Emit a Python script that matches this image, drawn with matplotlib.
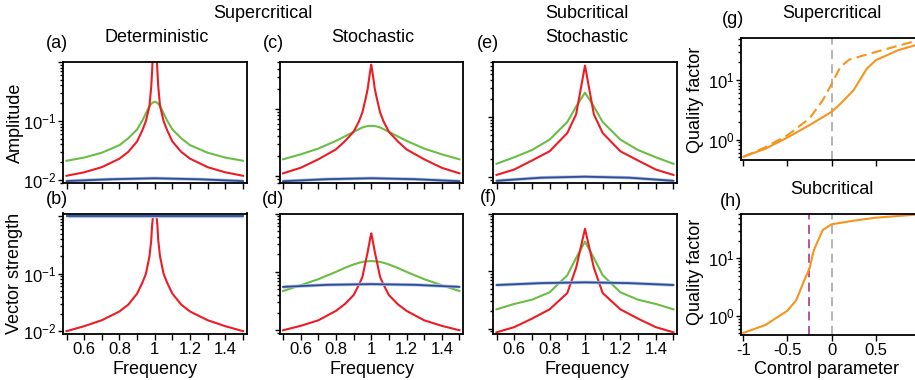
import matplotlib
matplotlib.use("Agg")
import matplotlib.pyplot as plt
from matplotlib.ticker import LogLocator, NullFormatter, FixedLocator, FixedFormatter

plt.rcParams['font.family'] = ['Liberation Sans', 'DejaVu Sans']
plt.rcParams['axes.unicode_minus'] = False
plt.rcParams['mathtext.fontset'] = 'custom'
plt.rcParams['mathtext.rm'] = 'Liberation Sans'

FS = 13
TFS = 12

# ---------------- data ----------------
freq_s = [0.5, 0.6, 0.7, 0.8, 0.85, 0.9, 0.93, 0.95, 0.97, 0.98, 0.985, 0.99, 0.995, 1.0,
          1.005, 1.01, 1.015, 1.02, 1.03, 1.05, 1.07, 1.1, 1.15, 1.2, 1.3, 1.4, 1.5]

# (a) deterministic amplitude
a_red = [0.0118, 0.0135, 0.0165, 0.023, 0.030, 0.045, 0.070, 0.10, 0.18, 0.38, 0.7, 1.5, 3.0, 5.0,
         3.0, 1.5, 0.7, 0.38, 0.18, 0.10, 0.070, 0.045, 0.030, 0.023, 0.0165, 0.0135, 0.0118]
a_green = [0.0212, 0.024, 0.029, 0.039, 0.051, 0.072, 0.102, 0.135, 0.178, 0.196, 0.202, 0.206, 0.209, 0.21,
           0.209, 0.206, 0.202, 0.196, 0.178, 0.135, 0.102, 0.072, 0.051, 0.039, 0.029, 0.024, 0.0212]
freq_b = [0.5, 0.75, 1.0, 1.25, 1.5]
a_blue = [0.0096, 0.0103, 0.0107, 0.0103, 0.0096]

# (b) deterministic vector strength
b_red = [0.010, 0.0122, 0.0155, 0.022, 0.029, 0.045, 0.070, 0.10, 0.20, 0.38, 0.7, 1.0, 1.0, 1.0,
         1.0, 1.0, 0.7, 0.38, 0.20, 0.10, 0.070, 0.045, 0.029, 0.022, 0.0155, 0.0122, 0.010]
b_blue = [1.0, 1.0, 1.0, 1.0, 1.0]

# (c) stochastic amplitude (supercritical)
c_red = [0.011, 0.0133, 0.0178, 0.025, 0.033, 0.0457, 0.065, 0.089, 0.15, 0.20, 0.25, 0.31, 0.38, 0.457,
         0.38, 0.31, 0.25, 0.20, 0.15, 0.089, 0.065, 0.0457, 0.033, 0.025, 0.0178, 0.0133, 0.011]
c_green = [0.0178, 0.0211, 0.0257, 0.0335, 0.039, 0.0457, 0.050, 0.053, 0.055, 0.0555, 0.0558, 0.056, 0.056, 0.056,
           0.056, 0.056, 0.0558, 0.0555, 0.055, 0.053, 0.050, 0.0457, 0.039, 0.0335, 0.0257, 0.0211, 0.0178]
c_blue = [0.0084, 0.0090, 0.0093, 0.0090, 0.0084]

# (d) stochastic vector strength (supercritical)
d_red = [0.010, 0.0119, 0.0148, 0.0215, 0.028, 0.040, 0.060, 0.082, 0.16, 0.22, 0.27, 0.32, 0.39, 0.457,
         0.39, 0.32, 0.27, 0.22, 0.16, 0.082, 0.060, 0.040, 0.028, 0.0215, 0.0148, 0.0119, 0.010]
d_green = [0.047, 0.059, 0.075, 0.100, 0.117, 0.134, 0.143, 0.148, 0.151, 0.152, 0.152, 0.153, 0.153, 0.153,
           0.153, 0.153, 0.152, 0.152, 0.151, 0.148, 0.143, 0.134, 0.117, 0.100, 0.075, 0.059, 0.047]
d_blue = [0.0553, 0.060, 0.0617, 0.060, 0.0553]

# subcritical stochastic (coarse sampling)
freq_p = [0.5, 0.6, 0.7, 0.8, 0.9, 0.95, 1.0, 1.05, 1.1, 1.2, 1.3, 1.4, 1.5]
e_red = [0.011, 0.0135, 0.019, 0.027, 0.054, 0.11, 0.70, 0.11, 0.054, 0.027, 0.019, 0.0135, 0.011]
e_green = [0.0168, 0.0215, 0.0283, 0.042, 0.082, 0.148, 0.25, 0.148, 0.082, 0.042, 0.0283, 0.0215, 0.0168]
e_blue = [0.0088, 0.0099, 0.0103, 0.0099, 0.0088]

f_red = [0.0087, 0.0107, 0.015, 0.0218, 0.0417, 0.115, 0.545, 0.115, 0.0417, 0.0218, 0.015, 0.0107, 0.0087]
f_green = [0.0218, 0.027, 0.032, 0.043, 0.085, 0.17, 0.326, 0.17, 0.085, 0.043, 0.032, 0.027, 0.0218]
f_blue = [0.0575, 0.062, 0.064, 0.062, 0.0575]

# (g) quality factor, supercritical
ctrl_g = [-1.0, -0.75, -0.5, -0.25, 0.0, 0.1, 0.25, 0.4, 0.5, 0.75, 1.0]
g_solid = [0.51, 0.70, 1.08, 1.75, 2.93, 4.0, 6.8, 15.7, 21.7, 32.0, 41.0]
ctrl_gd = [-1.0, -0.75, -0.5, -0.25, -0.1, 0.0, 0.1, 0.2, 0.5, 0.75, 1.0]
g_dashed = [0.51, 0.74, 1.18, 2.26, 4.6, 8.6, 16.8, 22.3, 30.0, 38.0, 48.0]

# (h) quality factor, subcritical
ctrl_h = [-1.0, -0.75, -0.5, -0.4, -0.3, -0.25, -0.2, -0.1, 0.0, 0.25, 0.5, 1.0]
h_q = [0.51, 0.70, 1.24, 1.89, 4.5, 6.7, 14.0, 31.0, 39.0, 45.0, 50.7, 58.0]
h_mark = -0.25

freq_ticks = [0.5, 0.6, 0.7, 0.8, 0.9, 1.0, 1.1, 1.2, 1.3, 1.4, 1.5]
freq_labels = ['', '0.6', '', '0.8', '', '1', '', '1.2', '', '1.4', '']
ctrl_ticks = [-1, -0.5, 0, 0.5, 1]
ctrl_labels = ['-1', '-0.5', '0', '0.5', '']
yt_small = [0.01, 0.1, 1.0]
yt_small_lab = [r'$\mathdefault{10^{-2}}$', r'$\mathdefault{10^{-1}}$', '']
yt_q = [1.0, 10.0]
yt_q_lab = [r'$\mathdefault{10^{0}}$', r'$\mathdefault{10^{1}}$']

RED = '#ED1C24'
GREEN = '#6ABD45'
BLUE = '#2E4C9C'
BLUE_L = '#B3C3E0'
ORANGE = '#F7941E'
GRAY = '#AFAFAF'
MAG = '#B0449A'

W, H = 915, 380
fig = plt.figure(figsize=(W / 100, H / 100), dpi=100)


def px_axes(x0, y0, x1, y1):
    return fig.add_axes([x0 / W, 1 - y1 / H, (x1 - x0) / W, (y1 - y0) / H])


def ftext(x, y, s, **kw):
    fig.text(x / W, 1 - y / H, s, ha='center', va='center', fontsize=FS, **kw)


def style(ax, ylim, ticks, labels, show):
    ax.set_yscale('log')
    ax.set_ylim(*ylim)
    for sp in ax.spines.values():
        sp.set_linewidth(1.3)
    ax.tick_params(axis='both', which='both', direction='out', top=False, right=False,
                   labelsize=TFS, width=1.0)
    ax.tick_params(axis='x', which='major', length=4, pad=2)
    ax.tick_params(axis='y', which='major', length=3.5, pad=1)
    ax.tick_params(axis='y', which='minor', length=2.2)
    ax.yaxis.set_major_locator(FixedLocator(ticks))
    ax.yaxis.set_minor_locator(LogLocator(base=10, subs=range(2, 10), numticks=20))
    ax.yaxis.set_minor_formatter(NullFormatter())
    if show:
        ax.yaxis.set_major_formatter(FixedFormatter(labels))
    else:
        ax.set_yticklabels([])


def freq_axis(ax, labels):
    ax.set_xlim(0.48, 1.52)
    ax.xaxis.set_major_locator(FixedLocator(freq_ticks))
    if labels:
        ax.xaxis.set_major_formatter(FixedFormatter(freq_labels))
    else:
        ax.set_xticklabels([])


def blue_line(ax, x, y):
    ax.plot(x, y, color=BLUE_L, lw=2.4, solid_capstyle='butt')
    ax.plot(x, y, color=BLUE, lw=1.3)


cols = [(63, 246.5), (279.5, 463), (493, 677)]
top_rows = (62, 183)
bot_rows = (213.5, 333.5)

# (a)
ax = px_axes(cols[0][0], top_rows[0], cols[0][1], top_rows[1])
blue_line(ax, freq_b, a_blue)
ax.plot(freq_s, a_green, color=GREEN, lw=1.5)
ax.plot(freq_s, a_red, color=RED, lw=1.5)
style(ax, (0.0089, 1.0), yt_small, yt_small_lab, True)
freq_axis(ax, False)

# (b)
ax = px_axes(cols[0][0], bot_rows[0], cols[0][1], bot_rows[1])
ax.plot(freq_s, b_red, color=RED, lw=1.5)
blue_line(ax, freq_b, b_blue)
style(ax, (0.0091, 1.12), yt_small, yt_small_lab, True)
freq_axis(ax, True)

# (c)
ax = px_axes(cols[1][0], top_rows[0], cols[1][1], top_rows[1])
blue_line(ax, freq_b, c_blue)
ax.plot(freq_s, c_green, color=GREEN, lw=1.5)
ax.plot(freq_s, c_red, color=RED, lw=1.5)
style(ax, (0.0079, 0.5), yt_small, yt_small_lab, False)
freq_axis(ax, False)

# (d)
ax = px_axes(cols[1][0], bot_rows[0], cols[1][1], bot_rows[1])
ax.plot(freq_s, d_green, color=GREEN, lw=1.5)
ax.plot(freq_s, d_red, color=RED, lw=1.5)
blue_line(ax, freq_b, d_blue)
style(ax, (0.0088, 1.0), yt_small, yt_small_lab, False)
freq_axis(ax, True)

# (e)
ax = px_axes(cols[2][0], top_rows[0], cols[2][1], top_rows[1])
blue_line(ax, freq_b, e_blue)
ax.plot(freq_p, e_green, color=GREEN, lw=1.5)
ax.plot(freq_p, e_red, color=RED, lw=1.5)
style(ax, (0.0081, 0.8), yt_small, yt_small_lab, False)
freq_axis(ax, False)

# (f)
ax = px_axes(cols[2][0], bot_rows[0], cols[2][1], bot_rows[1])
ax.plot(freq_p, f_green, color=GREEN, lw=1.5)
ax.plot(freq_p, f_red, color=RED, lw=1.5)
blue_line(ax, freq_b, f_blue)
style(ax, (0.0083, 1.0), yt_small, yt_small_lab, False)
freq_axis(ax, True)

# (g)
ax = px_axes(741, 38, 923, 159.5)
ax.axvline(0, color=GRAY, lw=1.3, dashes=(5, 3))
ax.plot(ctrl_g, g_solid, color=ORANGE, lw=1.5)
ax.plot(ctrl_gd, g_dashed, color=ORANGE, lw=1.5, dashes=(5, 2.5))
style(ax, (0.46, 51.6), yt_q, yt_q_lab, True)
ax.set_xlim(-1.026, 1.036)
ax.xaxis.set_major_locator(FixedLocator(ctrl_ticks))
ax.set_xticklabels([])

# (h)
ax = px_axes(741, 213.5, 923, 335)
ax.axvline(0, color=GRAY, lw=1.3, dashes=(5, 3))
ax.axvline(h_mark, color=MAG, lw=1.3, dashes=(5, 3))
ax.plot(ctrl_h, h_q, color=ORANGE, lw=1.5)
style(ax, (0.47, 60), yt_q, yt_q_lab, True)
ax.set_xlim(-1.026, 1.036)
ax.xaxis.set_major_locator(FixedLocator(ctrl_ticks))
ax.xaxis.set_major_formatter(FixedFormatter(ctrl_labels))

# texts
ftext(263, 14, 'Supercritical')
ftext(57, 43, '(a)')
ftext(157, 37, 'Deterministic')
ftext(273, 44, '(c)')
ftext(373, 37, 'Stochastic')
ftext(488, 43, '(e)')
ftext(587, 14, 'Subcritical')
ftext(587, 37, 'Stochastic')
ftext(733, 20, '(g)')
ftext(832, 14, 'Supercritical')
ftext(57, 200, '(b)')
ftext(273, 199, '(d)')
ftext(488, 198, '(f)')
ftext(731, 201, '(h)')
ftext(832, 189, 'Subcritical')
ftext(15, 123, 'Amplitude', rotation=90)
ftext(15, 273, 'Vector strength', rotation=90)
ftext(696, 100, 'Quality factor', rotation=90)
ftext(696, 272, 'Quality factor', rotation=90)
ftext(155, 370, 'Frequency')
ftext(372, 370, 'Frequency')
ftext(587, 370, 'Frequency')
ftext(827, 370, 'Control parameter')

fig.savefig('out.png', dpi=100)
